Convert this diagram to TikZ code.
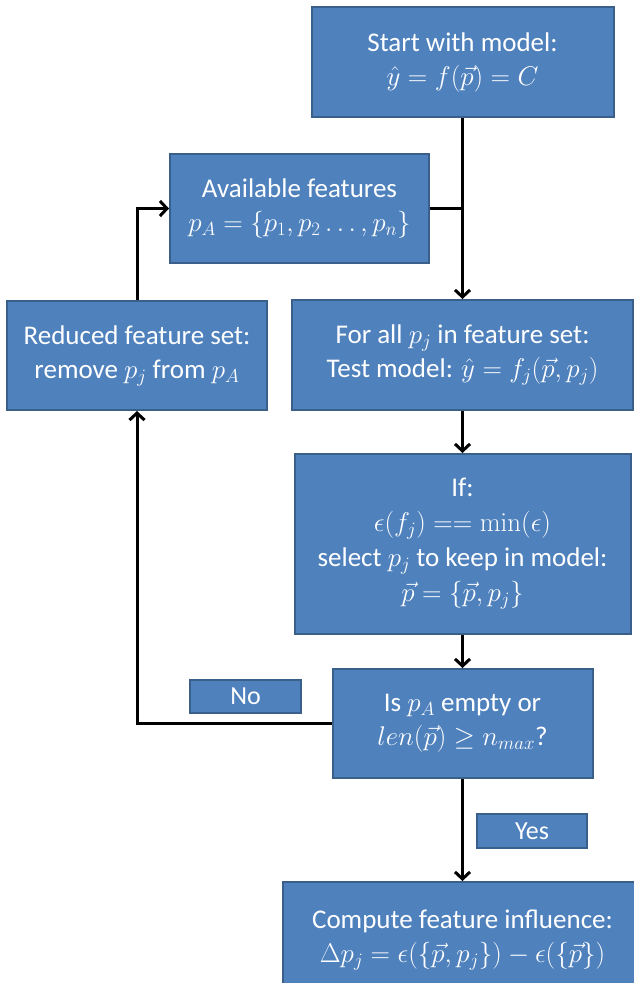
\RequirePackage{fix-cm}
\documentclass[tikz,border=0pt]{standalone}
\usepackage[no-math]{fontspec}
\setmainfont{Carlito}
\usetikzlibrary{arrows.meta}
\definecolor{boxfill}{HTML}{4F81BD}
\definecolor{boxline}{HTML}{3A5F8B}
\begin{document}
\begin{tikzpicture}[x=1pt,y=-1pt,
  box/.style={draw=boxline, line width=2pt, fill=boxfill, text=white, align=center,
    font=\fontsize{27}{34}\selectfont, inner sep=0pt},
  lbl/.style={box, line width=1.5pt, font=\fontsize{26}{30}\selectfont},
  conn/.style={line width=3pt, -{Straight Barb[length=7pt,width=15pt,line width=3pt]}},
  plain/.style={line width=3pt}]
\fill[white] (0,0) rectangle (634,983);
\useasboundingbox (0,0) rectangle (634,983);

\node[box, minimum width=302pt, minimum height=110pt] (start) at (462.5,62)
  {Start with model:\\$\hat{y}=f(\vec{p})=C$};
\node[box, minimum width=259pt, minimum height=109pt] (avail) at (299.5,208.5)
  {Available features\\$p_A=\{p_1,p_2\ldots,p_n\}$};
\node[box, minimum width=341pt, minimum height=110pt] (forall) at (462.5,355)
  {For all $p_j$ in feature set:\\Test model: $\hat{y}=f_j(\vec{p},p_j)$};
\node[box, minimum width=260pt, minimum height=109pt] (reduced) at (137,355.5)
  {Reduced feature set:\\remove $p_j$ from $p_A$};
\node[box, minimum width=336pt, minimum height=180pt, font=\fontsize{27}{35}\selectfont] (ifbox) at (462.5,544)
  {If:\\$\epsilon\bigl(f_j\bigr)==\min(\epsilon)$\\select $p_j$ to keep in model:\\$\vec{p}=\{\vec{p},p_j\}$};
\node[box, minimum width=260pt, minimum height=109pt] (isbox) at (462.5,723.5)
  {Is $p_A$ empty or\\$len(\vec{p})\geq n_{max}$?};
\node[lbl, minimum width=111pt, minimum height=33pt] (no) at (245.5,696.5) {No};
\node[lbl, minimum width=110pt, minimum height=34pt] (yes) at (532,831) {Yes};
\node[box, minimum width=359pt, minimum height=116pt] (compute) at (462.5,940)
  {Compute feature influence:\\$\Delta p_j=\epsilon\bigl(\{\vec{p},p_j\}\bigr)-\epsilon(\{\vec{p}\})$};

\draw[conn] (start.south) -- (forall.north);
\draw[plain] (avail.east) -- (avail.east -| start.south);
\draw[conn] (reduced.north) |- (avail.west);
\draw[conn] (forall.south) -- (ifbox.north);
\draw[conn] (ifbox.south) -- (isbox.north);
\draw[conn] (isbox.west) -| (reduced.south);
\draw[conn] (isbox.south) -- (compute.north);
\end{tikzpicture}
\end{document}
